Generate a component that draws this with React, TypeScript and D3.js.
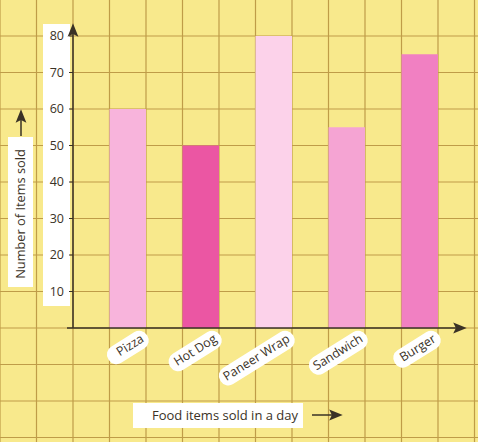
import { useMemo } from "react";
import * as d3 from "d3";

const FOODS = ["Pizza", "Hot Dog", "Paneer Wrap", "Sandwich", "Burger"];
const SOLD = [60, 50, 80, 55, 75];
const BAR_COLORS = ["#f8b4dc", "#eb56a3", "#fcd2ea", "#f5a4d3", "#f180c2"];
const Y_TICKS = [10, 20, 30, 40, 50, 60, 70, 80];
const Y_TITLE = "Number of Items sold";
const X_TITLE = "Food items sold in a day";

const W = 478;
const H = 442;
const FONT = "'Open Sans', 'Noto Sans', sans-serif";
const INK = "#3a3226";
const GRID = "#bf9c48";

export default function App() {
  const y = useMemo(() => d3.scaleLinear().domain([0, 80]).range([328, 36]), []);
  const cell = y(0) - y(10);
  const x = useMemo(
    () => d3.scaleBand<string>().domain(FOODS).range([73, 73 + cell * 11]).paddingInner(0.5).paddingOuter(0.5),
    [cell]
  );

  const x0 = 73;
  const gridX = d3.range(-2, 12).map((k) => x0 + k * cell);
  const gridY = d3.range(-30, 100, 10).map((v) => y(v));

  return (
    <svg width={W} height={H} style={{ position: "absolute", left: 0, top: 0, fontFamily: FONT }}>
      <defs>
        <marker id="ah" viewBox="0 0 10 10" refX="8" refY="5" markerWidth="9" markerHeight="9" orient="auto">
          <path d="M0,1 L10,5 L0,9 L2,5 Z" fill={INK} />
        </marker>
      </defs>
      <rect width={W} height={H} fill="#f8e98c" />
      {/* grid */}
      {gridX.map((gx, i) => (
        <line key={"gx" + i} x1={gx} x2={gx} y1={0} y2={H} stroke={GRID} strokeWidth={1.2} />
      ))}
      {gridY.map((gy, i) => (
        <line key={"gy" + i} x1={0} x2={W} y1={gy} y2={gy} stroke={GRID} strokeWidth={1.2} />
      ))}

      {/* bars */}
      {FOODS.map((f, i) => (
        <rect
          key={f}
          x={x(f)}
          y={y(SOLD[i])}
          width={x.bandwidth()}
          height={y(0) - y(SOLD[i])}
          fill={BAR_COLORS[i]}
        />
      ))}

      {/* y tick labels on white strip */}
      <rect x={43} y={24} width={27} height={282} fill="#ffffff" />
      {Y_TICKS.map((t) => (
        <g key={t}>
          <line x1={69} x2={73} y1={y(t)} y2={y(t)} stroke={INK} strokeWidth={1} />
          <text x={64} y={y(t)} dy="0.35em" textAnchor="end" fontSize={12.5} fill={INK}>
            {t}
          </text>
        </g>
      ))}

      {/* axes */}
      <line x1={x0} x2={x0} y1={y(0)} y2={26} stroke={INK} strokeWidth={1.5} markerEnd="url(#ah)" />
      <line x1={x0 - 6} x2={464} y1={y(0)} y2={y(0)} stroke={INK} strokeWidth={1.5} markerEnd="url(#ah)" />

      {/* x category labels */}
      {FOODS.map((f) => {
        const cx = (x(f) ?? 0) + x.bandwidth() / 2 + 17;
        const cy = 341;
        const tw = f.length * 6.7;
        return (
          <g key={"l" + f} transform={`translate(${cx},${cy}) rotate(-32)`}>
            <rect x={-tw - 7} y={-13} width={tw + 12} height={19} rx={9} fill="#ffffff" />
            <text x={0} y={0} textAnchor="end" fontSize={12.5} fill={INK}>
              {f}
            </text>
          </g>
        );
      })}

      {/* y title */}
      <rect x={8} y={137} width={25} height={150} fill="#ffffff" />
      <text
        transform={`translate(25,214) rotate(-90)`}
        textAnchor="middle"
        fontSize={12.8}
        fill={INK}
      >
        {Y_TITLE}
      </text>
      <line x1={21} x2={21} y1={136} y2={112} stroke={INK} strokeWidth={1.5} markerEnd="url(#ah)" />

      {/* x title */}
      <rect x={133} y={403} width={170} height={25} fill="#ffffff" />
      <text x={225} y={415} dy="0.35em" textAnchor="middle" fontSize={13} fill={INK}>
        {X_TITLE}
      </text>
      <line x1={312} x2={340} y1={415} y2={415} stroke={INK} strokeWidth={1.5} markerEnd="url(#ah)" />
    </svg>
  );
}
